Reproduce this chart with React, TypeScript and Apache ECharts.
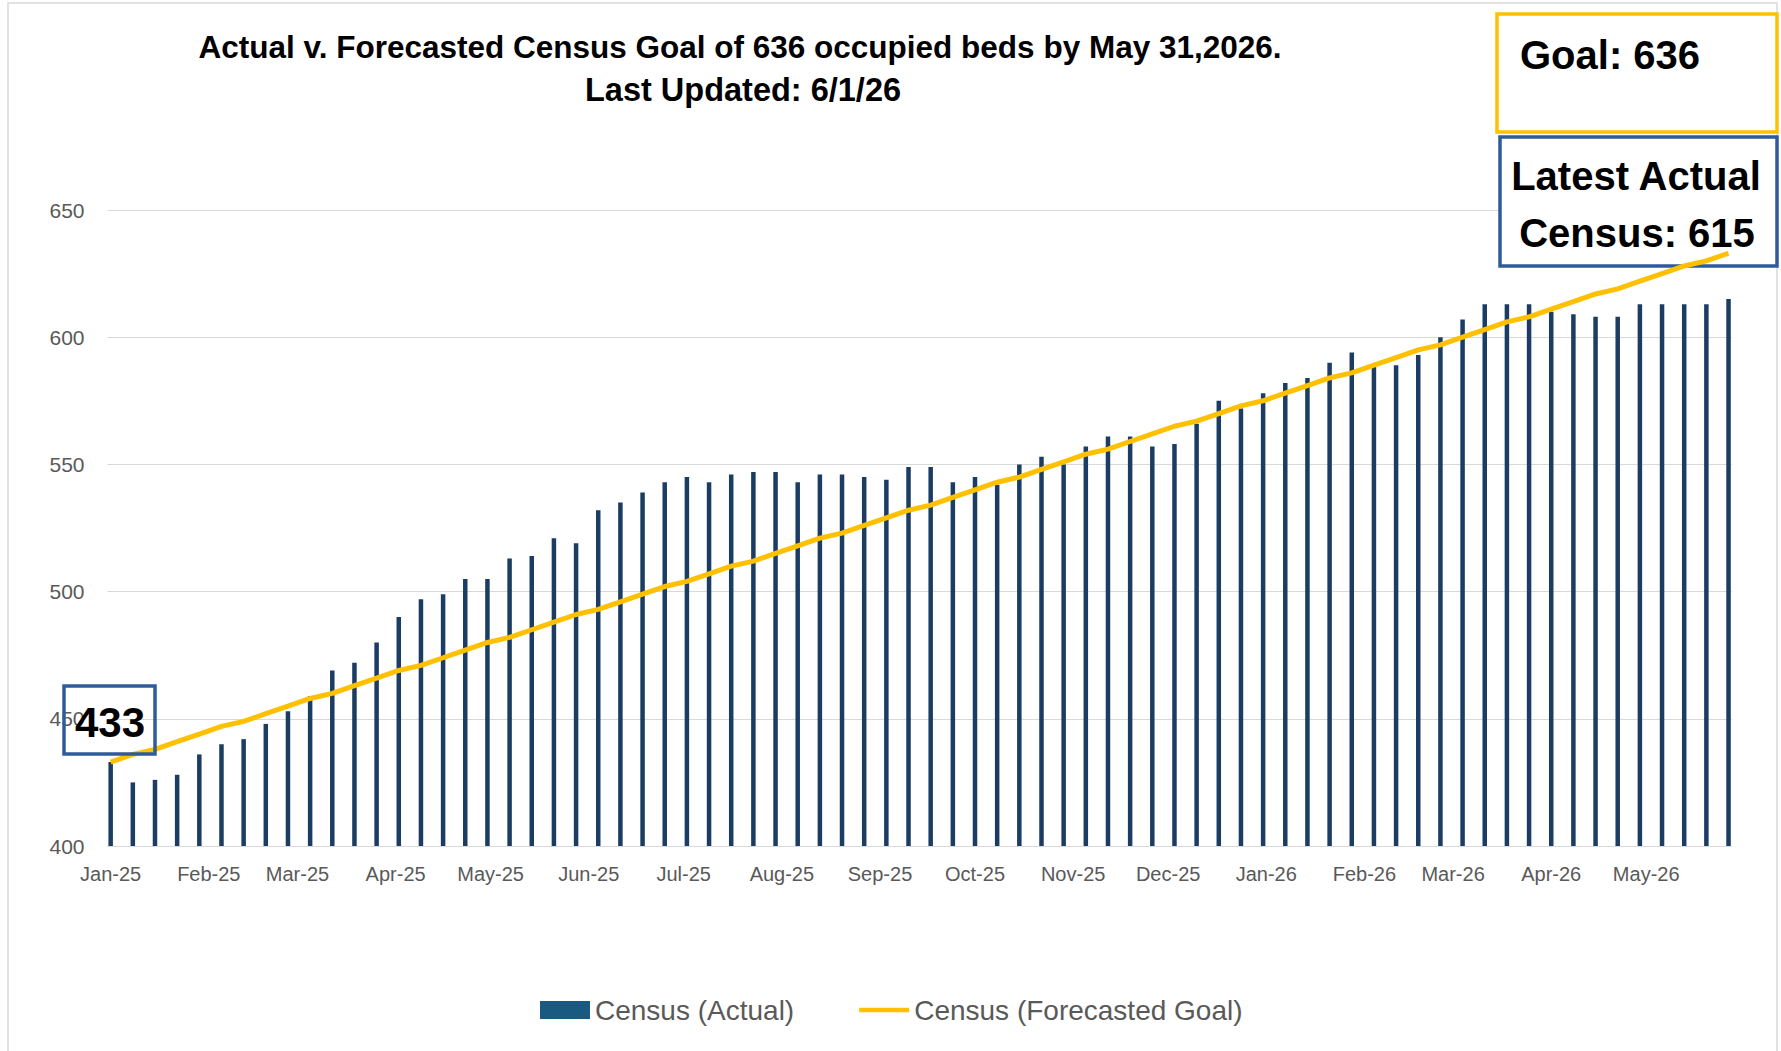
import React, { useEffect, useRef } from "react";
import * as echarts from "echarts";

const titleLines = [
  "Actual v. Forecasted Census Goal of 636 occupied beds by May 31,2026.",
  "Last Updated: 6/1/26",
];

// weekly observations, first week starting 2025-01-01
const firstWeek = "2025-01-01";

const actualCensus = [
  433, 425, 426, 428, 436, 440, 442, 448, 453, 459, 469, 472, 480, 490, 497, 499,
  505, 505, 513, 514, 521, 519, 532, 535, 539, 543, 545, 543, 546, 547, 547, 543,
  546, 546, 545, 544, 549, 549, 543, 545, 542, 550, 553, 550, 557, 561, 561, 557,
  558, 566, 575, 572, 578, 582, 584, 590, 594, 589, 589, 593, 600, 607, 613, 613,
  613, 610, 609, 608, 608, 613, 613, 613, 613, 615,
];

const forecastGoal = [
  433, 436, 438, 441, 444, 447, 449, 452, 455, 458, 460, 463, 466, 469, 471, 474,
  477, 480, 482, 485, 488, 491, 493, 496, 499, 502, 504, 507, 510, 512, 515, 518,
  521, 523, 526, 529, 532, 534, 537, 540, 543, 545, 548, 551, 554, 556, 559, 562,
  565, 567, 570, 573, 575, 578, 581, 584, 586, 589, 592, 595, 597, 600, 603, 606,
  608, 611, 614, 617, 619, 622, 625, 628, 630, 633,
];

const monthLabels = [
  "Jan-25", "Feb-25", "Mar-25", "Apr-25", "May-25", "Jun-25", "Jul-25", "Aug-25",
  "Sep-25", "Oct-25", "Nov-25", "Dec-25", "Jan-26", "Feb-26", "Mar-26", "Apr-26", "May-26",
];

const yMin = 400;
const yMax = 650;
const yInterval = 50;

const seriesNames = ["Census (Actual)", "Census (Forecasted Goal)"];
const goalText = "Goal: 636";
const latestLines = ["Latest Actual", "Census: 615"];
const startText = "433";

const MONTHS = ["Jan", "Feb", "Mar", "Apr", "May", "Jun", "Jul", "Aug", "Sep", "Oct", "Nov", "Dec"];
const DAY = 86400000;
const baseTime = Date.parse(firstWeek + "T00:00:00Z");

function monthLabelToDay(lbl: string): number {
  const [m, yy] = lbl.split("-");
  const t = Date.UTC(2000 + Number(yy), MONTHS.indexOf(m), 1);
  return Math.round((t - baseTime) / DAY);
}

const FONT = '"Liberation Sans", Arial, sans-serif';

export default function App() {
  const ref = useRef<HTMLDivElement>(null);

  useEffect(() => {
    if (!ref.current) return;
    const chart = echarts.init(ref.current, undefined, { renderer: "svg" });

    const weekDays = actualCensus.map((_, i) => i * 7);
    const lastDay = weekDays[weekDays.length - 1];
    const monthDays = monthLabels.map(monthLabelToDay);
    const labelByDay: Record<number, string> = {};
    monthDays.forEach((d, i) => (labelByDay[d] = monthLabels[i]));

    chart.setOption({
      animation: false,
      backgroundColor: "#ffffff",
      grid: {
        left: 107.5,
        right: 49.3,
        top: 210,
        bottom: 205,
        containLabel: false,
        outerBoundsMode: "none",
      },
      xAxis: {
        type: "value",
        min: -1,
        max: lastDay + 1,
        axisLine: { show: true, lineStyle: { color: "#d9d9d9", width: 1 } },
        axisTick: { show: false },
        splitLine: { show: false },
        axisLabel: {
          customValues: monthDays,
          formatter: (v: number) => labelByDay[v] ?? "",
          color: "#595959",
          fontFamily: FONT,
          fontSize: 20,
          margin: 18,
        },
      },
      yAxis: {
        type: "value",
        min: yMin,
        max: yMax,
        interval: yInterval,
        axisLine: { show: false },
        axisTick: { show: false },
        splitLine: { show: true, lineStyle: { color: "#d9d9d9", width: 1 } },
        axisLabel: {
          color: "#595959",
          fontFamily: FONT,
          fontSize: 21,
          margin: 23,
        },
      },
      legend: {
        left: 540,
        top: 996,
        padding: 0,
        itemWidth: 50,
        itemHeight: 18,
        itemGap: 65,
        symbolKeepAspect: true,
        textStyle: { fontFamily: FONT, fontSize: 28, color: "#595959" },
        data: [
          { name: seriesNames[0], icon: "rect", itemStyle: { color: "#1b5a80" } },
          {
            name: seriesNames[1],
            icon: "path://M0 0H54V5H0Z",
            itemStyle: { color: "#FFC000" },
          },
        ],
      },
      series: [
        {
          name: seriesNames[0],
          type: "bar",
          data: actualCensus.map((v, i) => [weekDays[i], v]),
          barWidth: 4.5,
          clip: true,
          itemStyle: { color: "#1b3d63" },
          z: 2,
        },
        {
          name: seriesNames[1],
          type: "line",
          data: forecastGoal.map((v, i) => [weekDays[i], v]),
          symbol: "none",
          clip: false,
          lineStyle: { color: "#FFC000", width: 5 },
          itemStyle: { color: "#FFC000" },
          z: 3,
        },
      ],
      graphic: [
        {
          type: "rect",
          silent: true,
          z: 0,
          shape: { x: 8, y: 3, width: 1769, height: 1100 },
          style: { fill: "none", stroke: "#d9d9d9", lineWidth: 1.5 },
        },
        {
          type: "text",
          x: 740,
          y: 47,
          z: 5,
          style: {
            text: titleLines[0],
            font: `bold 31.5px ${FONT}`,
            fill: "#000000",
            textAlign: "center",
            textVerticalAlign: "middle",
          },
        },
        {
          type: "text",
          x: 743,
          y: 90,
          z: 5,
          style: {
            text: titleLines[1],
            font: `bold 32.5px ${FONT}`,
            fill: "#000000",
            textAlign: "center",
            textVerticalAlign: "middle",
          },
        },
        {
          type: "rect",
          z: 1,
          shape: { x: 1497, y: 14, width: 280, height: 118 },
          style: { fill: "#ffffff", stroke: "#FFC000", lineWidth: 3.5 },
        },
        {
          type: "text",
          x: 1520,
          y: 55,
          z: 1,
          style: {
            text: goalText,
            font: `bold 40px ${FONT}`,
            fill: "#000000",
            textAlign: "left",
            textVerticalAlign: "middle",
          },
        },
        {
          type: "rect",
          z: 1,
          shape: { x: 1500, y: 137, width: 277, height: 129 },
          style: { fill: "#ffffff", stroke: "#2E5C9A", lineWidth: 3.5 },
        },
        {
          type: "text",
          x: 1636,
          y: 176,
          z: 1,
          style: {
            text: latestLines[0],
            font: `bold 40px ${FONT}`,
            fill: "#000000",
            textAlign: "center",
            textVerticalAlign: "middle",
          },
        },
        {
          type: "text",
          x: 1637,
          y: 233,
          z: 1,
          style: {
            text: latestLines[1],
            font: `bold 40px ${FONT}`,
            fill: "#000000",
            textAlign: "center",
            textVerticalAlign: "middle",
          },
        },
        {
          type: "rect",
          z: 4,
          shape: { x: 64, y: 686, width: 91, height: 68 },
          style: { fill: "none", stroke: "#2E5C9A", lineWidth: 3.5 },
        },
        {
          type: "text",
          x: 110,
          y: 722,
          z: 4,
          style: {
            text: startText,
            font: `bold 42px ${FONT}`,
            fill: "#000000",
            textAlign: "center",
            textVerticalAlign: "middle",
          },
        },
      ],
    });

    return () => chart.dispose();
  }, []);

  return (
    <div
      ref={ref}
      style={{ position: "fixed", left: 0, top: 0, width: 1781, height: 1051, background: "#fff" }}
    />
  );
}
